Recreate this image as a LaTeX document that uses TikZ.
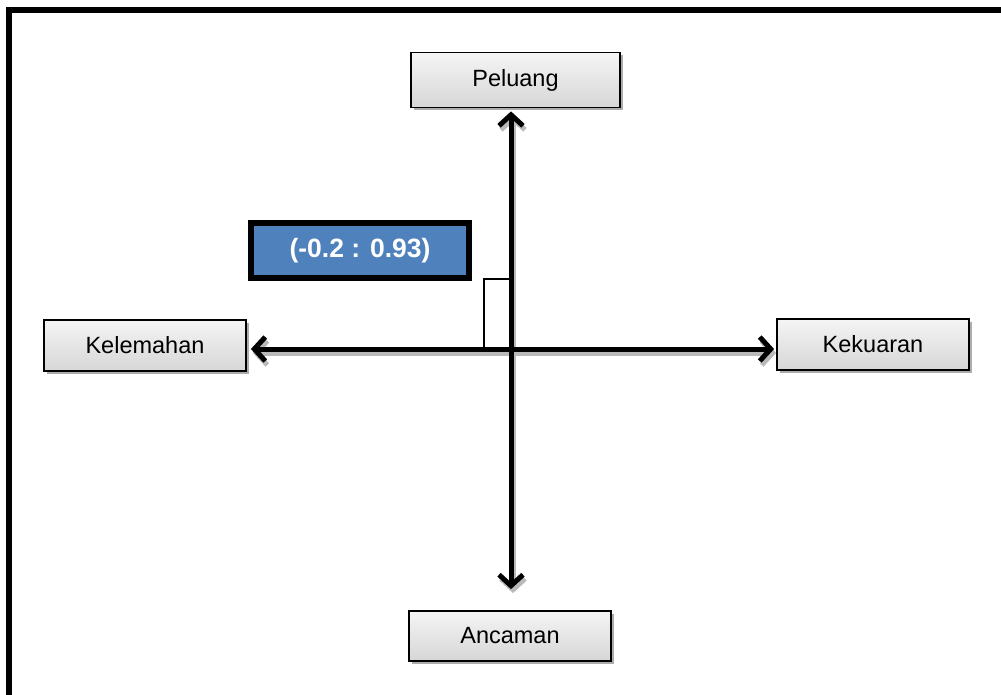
\documentclass[tikz,border=0pt]{standalone}
\usepackage{fontspec}
\setmainfont{Liberation Sans}
\usetikzlibrary{arrows.meta,shadows}
\definecolor{blueC}{HTML}{4F81BD}
\begin{document}
\begin{tikzpicture}[x=1pt,y=-1pt,
  box/.style={draw=black, line width=1.8pt, top color=gray!8, bottom color=gray!32,
    inner sep=0pt, font=\fontsize{23.5}{28}\selectfont,
    drop shadow={shadow xshift=3pt, shadow yshift=-3pt, fill=gray!65, opacity=1}},
  axis/.style={line width=5pt, line cap=butt, {Straight Barb[length=11pt,width=24pt]}-{Straight Barb[length=11pt,width=24pt]}},
  axshadow/.style={axis, draw=gray!55}]
\useasboundingbox (0,0) rectangle (1001,695);
\clip (0,0) rectangle (1001,695);
\draw[line width=6pt, line join=miter] (9,710) -- (9,10) -- (1015,10);

\node[box, minimum width=209pt, minimum height=55pt] (Peluang) at (515.5,80) {Peluang};
\node[box, minimum width=202pt, minimum height=51pt] (Kelemahan) at (145,345.5) {Kelemahan};
\node[box, minimum width=192pt, minimum height=51pt] (Kekuaran) at (873,344.5) {Kekuaran};
\node[box, minimum width=202pt, minimum height=50pt] (Ancaman) at (510,636) {Ancaman};

\node[draw=black, line width=6pt, fill=blueC, minimum width=218pt, minimum height=55pt,
  inner sep=0pt, text=white, font=\bfseries\fontsize{26.5}{30}\selectfont] (coordbox) at (360,250.5) {(-0.2 : 0.93)};

\coordinate (c) at (511,349);

\begin{scope}[transform canvas={xshift=2pt, yshift=-4pt}]
\draw[axshadow, shorten <=4pt, shorten >=2pt] (Kelemahan.east |- c) -- (Kekuaran.west |- c);
\draw[axshadow, shorten <=3pt, shorten >=21pt] (c |- Peluang.south) -- (c |- Ancaman.north);
\end{scope}

\draw[line width=1.5pt] (484,279) rectangle (c);

\draw[axis, shorten <=4pt, shorten >=2pt] (Kelemahan.east |- c) -- (Kekuaran.west |- c);
\draw[axis, shorten <=3pt, shorten >=21pt] (c |- Peluang.south) -- (c |- Ancaman.north);
\end{tikzpicture}
\end{document}
